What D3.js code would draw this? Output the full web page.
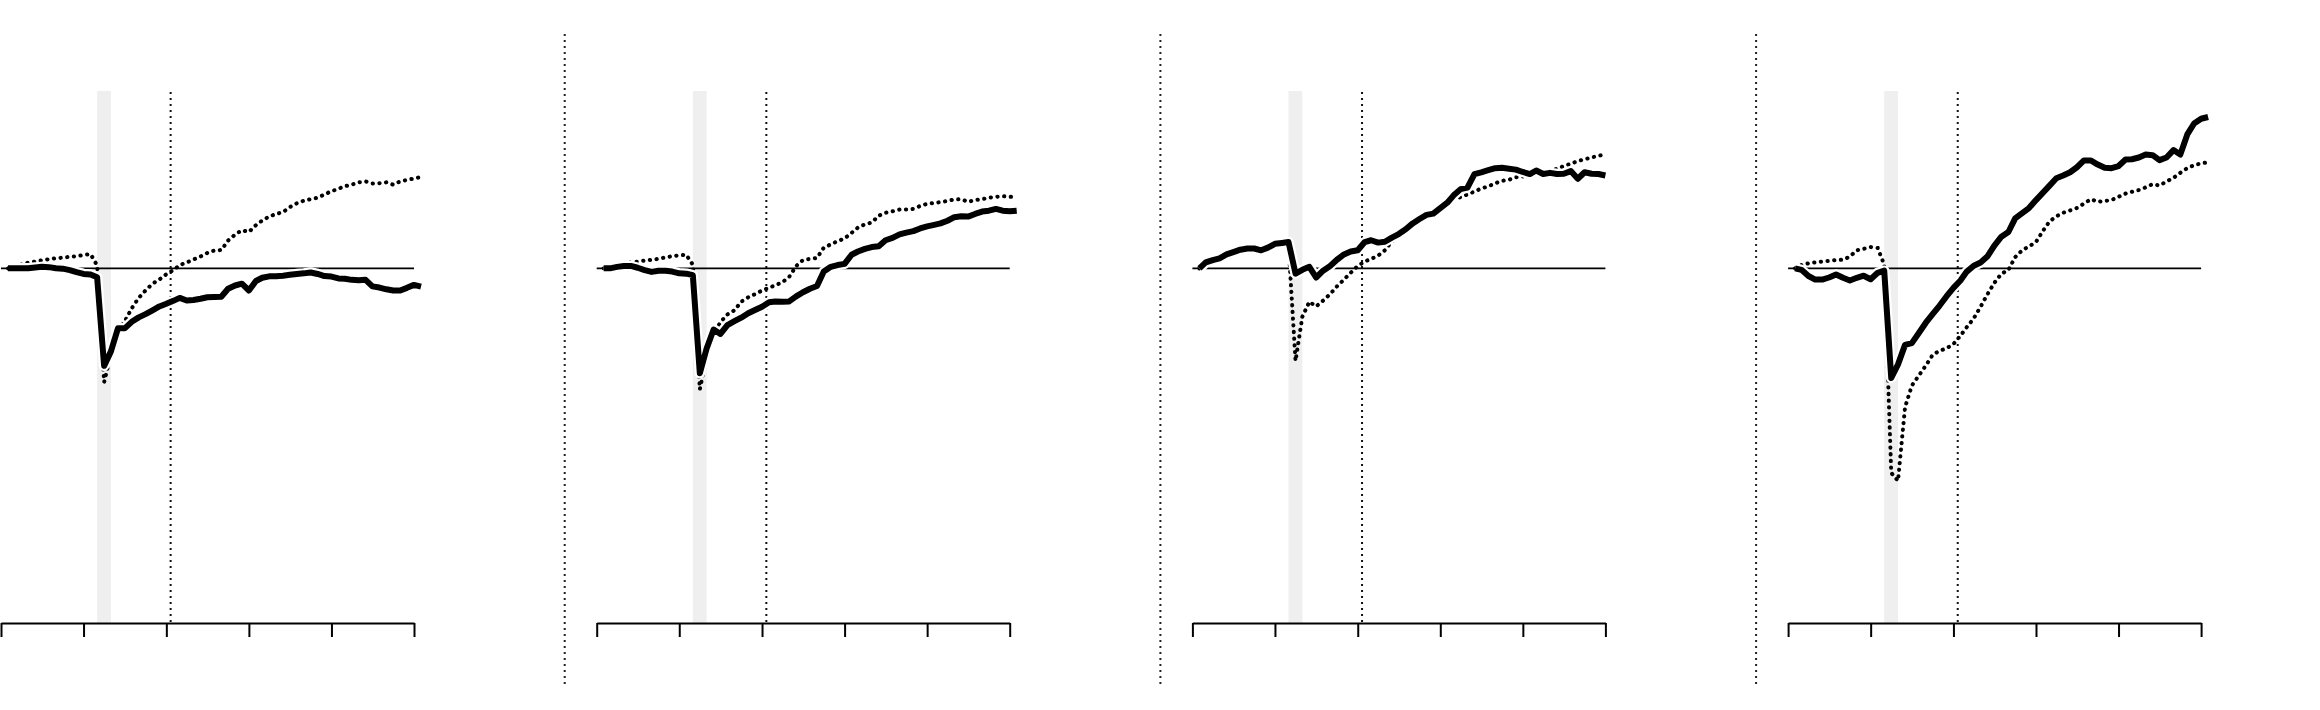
<!DOCTYPE html>
<html><head><meta charset="utf-8">
<script src="https://cdn.jsdelivr.net/npm/d3@7"></script>
<style>html,body{margin:0;padding:0;background:#fff;} svg{display:block}</style>
</head><body>
<svg id="chart" width="2320" height="710"></svg>
<script>
// ---- data ----
const tickDates = [2019, 2020, 2021, 2022, 2023, 2024];
const recessionStart = "2020-03-01";
const recessionEnd = "2020-05-01";
const markerDate = "2021-01-20";
const firstMonth = "2019-02-01";

const solid1 = [0,0,0,0,0.03,0.05,0.04,0,-0.01,-0.06,-0.13,-0.19,-0.21,-0.30,-3.30,-2.81,-2.03,-2.03,-1.81,-1.66,-1.55,-1.42,-1.29,-1.20,-1.10,-1.00,-1.09,-1.07,-1.03,-0.98,-0.97,-0.96,-0.69,-0.58,-0.52,-0.75,-0.43,-0.32,-0.27,-0.27,-0.25,-0.22,-0.19,-0.17,-0.14,-0.19,-0.26,-0.28,-0.34,-0.35,-0.39,-0.40,-0.39,-0.61,-0.65,-0.71,-0.75,-0.75,-0.66,-0.56,-0.62];
const dotted1 = [0,0.06,0.13,0.19,0.23,0.27,0.31,0.34,0.36,0.39,0.41,0.45,0.48,0.10,-3.85,-2.9,-2.1,-1.8,-1.35,-1.0,-0.75,-0.52,-0.38,-0.2,-0.06,0.11,0.2,0.3,0.4,0.52,0.6,0.62,0.94,1.14,1.29,1.23,1.46,1.62,1.75,1.84,1.90,2.07,2.20,2.29,2.34,2.39,2.50,2.61,2.69,2.78,2.83,2.91,2.94,2.87,2.88,2.91,2.83,2.94,2.99,3.04,3.09];

const solid2 = [0,0,0.05,0.08,0.08,0.02,-0.06,-0.12,-0.08,-0.08,-0.11,-0.17,-0.18,-0.23,-3.55,-2.71,-2.07,-2.22,-1.92,-1.79,-1.67,-1.52,-1.41,-1.30,-1.15,-1.12,-1.13,-1.12,-0.95,-0.81,-0.69,-0.60,-0.11,0.05,0.11,0.15,0.46,0.57,0.66,0.72,0.75,0.95,1.03,1.15,1.21,1.26,1.35,1.42,1.47,1.52,1.61,1.73,1.76,1.75,1.84,1.92,1.95,2.01,1.95,1.93,1.95];
const dotted2 = [0,0.05,0.11,0.15,0.2,0.23,0.26,0.29,0.32,0.37,0.41,0.44,0.46,0.12,-4.09,-3.0,-2.25,-1.82,-1.56,-1.42,-1.13,-0.98,-0.87,-0.75,-0.66,-0.57,-0.47,-0.29,0.08,0.28,0.32,0.35,0.70,0.81,0.92,1.01,1.20,1.38,1.49,1.55,1.78,1.88,1.93,1.99,1.99,2.01,2.11,2.18,2.21,2.24,2.28,2.33,2.34,2.25,2.31,2.34,2.39,2.42,2.44,2.42,2.41];

const solid3 = [0,0.20,0.28,0.34,0.47,0.55,0.63,0.67,0.67,0.61,0.70,0.83,0.86,0.89,-0.18,-0.05,0.05,-0.31,-0.08,0.08,0.29,0.47,0.57,0.61,0.89,0.95,0.87,0.90,1.04,1.16,1.32,1.52,1.67,1.81,1.85,2.04,2.22,2.47,2.68,2.73,3.19,3.25,3.32,3.39,3.40,3.37,3.34,3.26,3.19,3.31,3.19,3.23,3.19,3.20,3.29,3.03,3.25,3.20,3.19,3.14];
const dotted3 = [0,0.1,0.2,0.28,0.36,0.45,0.55,0.6,0.62,0.58,0.65,0.75,0.8,0.8,-3.13,-1.64,-1.13,-1.29,-1.09,-0.87,-0.61,-0.38,-0.15,0.08,0.23,0.32,0.43,0.61,0.92,1.06,1.21,1.42,1.58,1.73,1.78,1.96,2.14,2.34,2.41,2.50,2.60,2.70,2.77,2.88,2.96,3.00,3.08,3.11,3.14,3.17,3.22,3.29,3.37,3.46,3.54,3.63,3.69,3.75,3.81,3.85];

const solid4 = [0,-0.05,-0.26,-0.38,-0.38,-0.31,-0.21,-0.32,-0.41,-0.32,-0.25,-0.37,-0.15,-0.08,-3.71,-3.25,-2.59,-2.53,-2.19,-1.84,-1.55,-1.26,-0.95,-0.66,-0.41,-0.11,0.09,0.20,0.41,0.77,1.07,1.23,1.69,1.87,2.04,2.31,2.56,2.79,3.05,3.14,3.25,3.42,3.65,3.65,3.51,3.40,3.39,3.46,3.68,3.69,3.75,3.85,3.83,3.66,3.75,4.00,3.85,4.53,4.90,5.06,5.12];
const dotted4 = [0,0.11,0.17,0.2,0.23,0.25,0.28,0.29,0.40,0.61,0.66,0.72,0.69,0.12,-6.92,-7.19,-4.70,-3.97,-3.63,-3.29,-2.93,-2.79,-2.71,-2.56,-2.28,-1.99,-1.69,-1.30,-0.87,-0.49,-0.18,-0.06,0.38,0.61,0.74,0.89,1.27,1.58,1.76,1.88,1.96,2.04,2.19,2.34,2.25,2.28,2.31,2.42,2.53,2.59,2.65,2.74,2.85,2.80,2.94,3.06,3.23,3.39,3.49,3.55,3.59];

const panels = [
  {solid: solid1, dotted: dotted1},
  {solid: solid2, dotted: dotted2},
  {solid: solid3, dotted: dotted3},
  {solid: solid4, dotted: dotted4}
];

// ---- layout ----
const svg = d3.select("#chart");
const yTop = 91, yBottom = 623, pw = 413, step = 595.7, left0 = 1;
const parse = d3.timeParse("%Y-%m-%d");
const x = d3.scaleTime().domain([new Date(2019,0,1), new Date(2024,0,1)]).range([0, pw]);
const y = d3.scaleLinear().domain([-12, 6]).range([yBottom, yTop]);
const start = parse(firstMonth);

panels.forEach((p, k) => {
  const g = svg.append("g").attr("transform", `translate(${left0 + step*k},0)`);
  // separator
  g.append("line").attr("x1", -32).attr("x2", -32).attr("y1", 34).attr("y2", 687)
    .attr("stroke", "#222").attr("stroke-width", 2).attr("stroke-dasharray", "2 4");
  // recession band
  g.append("rect").attr("x", x(parse(recessionStart))).attr("y", yTop)
    .attr("width", x(parse(recessionEnd)) - x(parse(recessionStart))).attr("height", yBottom - yTop)
    .attr("fill", "#efefef");
  // marker
  const mx = x(parse(markerDate));
  g.append("line").attr("x1", mx).attr("x2", mx).attr("y1", yTop + 1).attr("y2", yBottom)
    .attr("stroke", "#111").attr("stroke-width", 2).attr("stroke-dasharray", "2 4");
  // baseline
  g.append("line").attr("x1", 0).attr("x2", pw).attr("y1", y(0)).attr("y2", y(0))
    .attr("stroke", "#000").attr("stroke-width", 1.7);
  // axis
  const ax = d3.axisBottom(x).tickValues(tickDates.map(t => new Date(t,0,1)))
    .tickFormat("").tickSize(14).tickSizeOuter(0);
  const axg = g.append("g").attr("transform", `translate(0,${yBottom})`).call(ax);
  axg.select(".domain").attr("stroke", "#000").attr("stroke-width", 2);
  axg.selectAll(".tick line").attr("stroke", "#000").attr("stroke-width", 2);

  const mkLine = arr => d3.line()
    .x((d, i) => x(d3.timeMonth.offset(start, i)))
    .y(d => y(d))(arr);
  // dotted series
  g.append("path").attr("d", mkLine(p.dotted)).attr("fill", "none")
    .attr("stroke", "#000").attr("stroke-width", 4).attr("stroke-linecap", "round")
    .attr("stroke-dasharray", "0.3 6.4");
  // solid series with halo
  g.append("path").attr("d", mkLine(p.solid)).attr("fill", "none")
    .attr("stroke", "#fff").attr("stroke-width", 10.5).attr("stroke-linejoin", "round");
  g.append("path").attr("d", mkLine(p.solid)).attr("fill", "none")
    .attr("stroke", "#000").attr("stroke-width", 6).attr("stroke-linejoin", "round");
});
</script>
</body></html>
